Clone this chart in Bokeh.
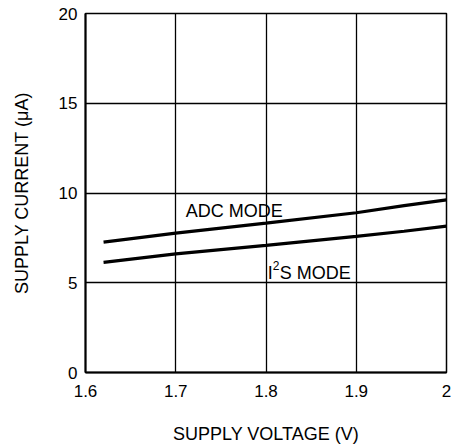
from bokeh.plotting import figure
from bokeh.models import Label, FixedTicker, Range1d
from bokeh.embed import file_html
from bokeh.resources import INLINE

# Data
voltage = [1.62, 1.70, 1.80, 1.90, 1.953, 2.00]
adc_current = [7.26, 7.76, 8.32, 8.90, 9.30, 9.62]
i2s_current = [6.14, 6.61, 7.08, 7.58, 7.87, 8.15]
x_ticks = [1.6, 1.7, 1.8, 1.9, 2.0]
y_ticks = [0, 5, 10, 15, 20]

FONT = "Liberation Sans"

p = figure(frame_width=361, frame_height=359, output_backend="svg", toolbar_location=None,
           x_range=Range1d(1.6, 2.0), y_range=Range1d(0, 20),
           min_border_left=85, min_border_right=5, min_border_top=13, min_border_bottom=70)
p.background_fill_color = "white"
p.border_fill_color = "white"
p.outline_line_color = "black"
p.outline_line_width = 1.5

for ax in (p.xaxis, p.yaxis):
    ax.axis_line_width = 2
    ax.axis_line_color = "black"
    ax.major_tick_line_color = None
    ax.minor_tick_line_color = None
    ax.major_tick_out = 0
    ax.major_tick_in = 0
    ax.minor_tick_out = 0
    ax.minor_tick_in = 0
    ax.major_label_text_font = FONT
    ax.major_label_text_font_size = "17px"
    ax.major_label_text_color = "black"
    ax.axis_label_text_font = FONT
    ax.axis_label_text_font_size = "18px"
    ax.axis_label_text_font_style = "normal"
    ax.axis_label_text_color = "black"

p.xaxis.ticker = FixedTicker(ticks=x_ticks)
p.yaxis.ticker = FixedTicker(ticks=y_ticks)
p.xaxis.major_label_overrides = {1.6: "1.6", 1.7: "1.7", 1.8: "1.8", 1.9: "1.9", 2.0: "2"}
p.xaxis.axis_label = "SUPPLY VOLTAGE (V)"
p.yaxis.axis_label = "SUPPLY CURRENT (μA)"
p.xaxis.major_label_standoff = 12
p.yaxis.major_label_standoff = 8
p.xaxis.axis_label_standoff = 24
p.yaxis.axis_label_standoff = 24

p.xgrid.ticker = FixedTicker(ticks=x_ticks)
p.ygrid.ticker = FixedTicker(ticks=y_ticks)
for g in (p.xgrid, p.ygrid):
    g.grid_line_color = "black"
    g.grid_line_width = 1.3

p.line(voltage, adc_current, line_color="black", line_width=3.2)
p.line(voltage, i2s_current, line_color="black", line_width=3.2)

p.add_layout(Label(x=1.711, y=9.02, text="ADC MODE", text_font=FONT, text_font_size="18px",
                   text_baseline="alphabetic", text_color="black"))
p.add_layout(Label(x=1.802, y=5.57, text="I", text_font=FONT, text_font_size="18px",
                   text_baseline="alphabetic", text_color="black"))
p.add_layout(Label(x=1.802, y=5.57, x_offset=5, y_offset=7, text="2", text_font=FONT,
                   text_font_size="12px", text_baseline="alphabetic", text_color="black"))
p.add_layout(Label(x=1.802, y=5.57, x_offset=12, text="S MODE", text_font=FONT,
                   text_font_size="18px", text_baseline="alphabetic", text_color="black"))

open("out.html", "w").write(file_html(p, INLINE))
